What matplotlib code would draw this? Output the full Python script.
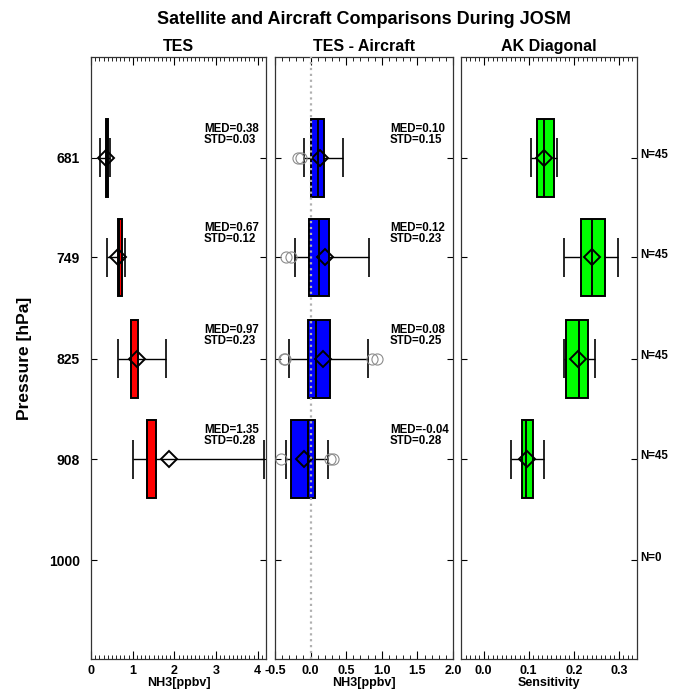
import numpy as np
import matplotlib
matplotlib.use('Agg')
import matplotlib.pyplot as plt
from matplotlib.ticker import MultipleLocator, NullLocator, FixedLocator, FormatStrFormatter

plt.rcParams['font.family'] = ['Liberation Sans', 'DejaVu Sans']
plt.rcParams['font.weight'] = 'bold'

###############
# data

pressure = [681, 749, 825, 908, 1000]
n_obs = [45, 45, 45, 45, 0]

# TES retrieved NH3 [ppbv]
tes_min = [0.22, 0.38, 0.64, 1.00]
tes_q1 = [0.36, 0.64, 0.96, 1.34]
tes_med = [0.38, 0.67, 0.97, 1.35]
tes_q3 = [0.40, 0.74, 1.12, 1.55]
tes_max = [0.46, 0.82, 1.81, 4.16]
tes_mean = [0.36, 0.64, 1.10, 1.87]
tes_std = [0.03, 0.12, 0.23, 0.28]

# TES - Aircraft [ppbv]
dif_min = [-0.095, -0.22, -0.30, -0.35]
dif_q1 = [0.0, -0.024, -0.04, -0.27]
dif_med = [0.10, 0.12, 0.08, -0.04]
dif_q3 = [0.185, 0.263, 0.27, 0.06]
dif_max = [0.46, 0.82, 0.81, 0.24]
dif_mean = [0.13, 0.20, 0.17, -0.09]
dif_std = [0.15, 0.23, 0.25, 0.28]
dif_out = [[-0.175, -0.13], [-0.34, -0.28], [-0.38, -0.36, 0.86, 0.93], [-0.41, 0.27, 0.31]]

# averaging kernel diagonal
ak_min = [0.105, 0.178, 0.178, 0.061]
ak_q1 = [0.119, 0.216, 0.182, 0.085]
ak_med = [0.133, 0.240, 0.211, 0.095]
ak_q3 = [0.157, 0.270, 0.231, 0.109]
ak_max = [0.163, 0.298, 0.248, 0.133]
ak_mean = [0.135, 0.240, 0.210, 0.096]

################

# step between levels in log pressure, used for box and cap heights
f = (pressure[-1] / pressure[0]) ** (1.0 / (len(pressure) - 1))


def draw_boxes(ax, lo, q1, med, q3, hi, mean, color, outliers=None):
    for i in range(len(q1)):
        p = pressure[i]
        b0, b1 = p / f ** 0.386, p * f ** 0.386
        c0, c1 = p / f ** 0.194, p * f ** 0.194
        # whisker line and caps
        ax.hlines(p, lo[i], hi[i], color='k', lw=1.0, zorder=2)
        ax.vlines([lo[i], hi[i]], c0, c1, color='k', lw=1.2, zorder=2)
        # the box itself
        ax.barh(b0, q3[i] - q1[i], height=b1 - b0, left=q1[i], align='edge',
                color=color, edgecolor='k', linewidth=1.4, zorder=3)
        ax.vlines(med[i], b0, b1, color='k', lw=1.4, zorder=4)
        ax.plot(mean[i], p, marker='D', ms=8, mfc='none', mec='k', mew=1.4, zorder=6)
        if outliers is not None:
            ax.plot(outliers[i], [p] * len(outliers[i]), 'o', ms=8, mfc='none',
                    mec='#8c8c8c', mew=0.8, zorder=5)


def stat_text(ax, med, std):
    for i in range(len(med)):
        ax.annotate('MED=%.2f\nSTD=%.2f' % (med[i], std[i]), xy=(0.645, pressure[i]),
                    xycoords=('axes fraction', 'data'), xytext=(0, 17),
                    textcoords='offset points', ha='left', va='center',
                    fontsize=8.3, fontweight='bold', linespacing=0.9)


fig = plt.figure(figsize=(6.73, 6.89), dpi=100)
bottom = 30 / 689
height = 602 / 689
ax1 = fig.add_axes([91 / 673, bottom, 175 / 673, height])
ax2 = fig.add_axes([275 / 673, bottom, 178 / 673, height])
ax3 = fig.add_axes([461 / 673, bottom, 176 / 673, height])

draw_boxes(ax1, tes_min, tes_q1, tes_med, tes_q3, tes_max, tes_mean, '#ff0000')
stat_text(ax1, tes_med, tes_std)

ax2.axvline(0, color='#b0b0b0', ls=':', lw=1.6, zorder=7)
draw_boxes(ax2, dif_min, dif_q1, dif_med, dif_q3, dif_max, dif_mean, '#0000ff', dif_out)
stat_text(ax2, dif_med, dif_std)

draw_boxes(ax3, ak_min, ak_q1, ak_med, ak_q3, ak_max, ak_mean, '#00ff00')
for i in range(len(pressure)):
    ax3.annotate('N=%d' % n_obs[i], xy=(1.02, pressure[i]), xycoords=('axes fraction', 'data'),
                 xytext=(0, 2), textcoords='offset points', ha='left', va='center',
                 fontsize=8.3, fontweight='bold', annotation_clip=False)

# axes, ticks and labels
for ax in [ax1, ax2, ax3]:
    ax.set_yscale('log')
    ax.set_ylim(pressure[-1] * f ** 0.98, pressure[0] / f ** 1.0)
    ax.yaxis.set_major_locator(FixedLocator(pressure))
    ax.yaxis.set_minor_locator(NullLocator())
    ax.tick_params(axis='both', which='both', direction='in', top=True, right=True)
    ax.tick_params(axis='x', which='major', length=6, width=0.8, labelsize=9, pad=4)
    ax.tick_params(axis='x', which='minor', length=3, width=0.6)
    ax.tick_params(axis='y', which='major', length=4, width=0.8)
    for s in ax.spines.values():
        s.set_linewidth(0.9)
        s.set_color('#333333')
    for lab in ax.get_xticklabels():
        lab.set_fontweight('bold')

ax1.set_yticklabels([str(p) for p in pressure], fontsize=10, fontweight='bold')
ax1.tick_params(axis='y', pad=8)
ax2.set_yticklabels([])
ax3.set_yticklabels([])
ax1.set_ylabel('Pressure [hPa]', fontsize=12.5, fontweight='bold', labelpad=12)

ax1.set_xlim(0, 4.2)
ax1.xaxis.set_major_locator(MultipleLocator(1))
ax1.xaxis.set_minor_locator(MultipleLocator(0.1))
ax1.xaxis.set_major_formatter(FormatStrFormatter('%d'))

ax2.set_xlim(-0.5, 2.0)
ax2.xaxis.set_major_locator(MultipleLocator(0.5))
ax2.xaxis.set_minor_locator(MultipleLocator(0.1))
ax2.xaxis.set_major_formatter(FormatStrFormatter('%.1f'))

ax3.set_xlim(-0.05, 0.34)
ax3.xaxis.set_major_locator(MultipleLocator(0.1))
ax3.xaxis.set_minor_locator(MultipleLocator(0.01))
ax3.xaxis.set_major_formatter(FormatStrFormatter('%.1f'))

for ax, t, xl in [(ax1, 'TES', 'NH3[ppbv]'), (ax2, 'TES - Aircraft', 'NH3[ppbv]'),
                  (ax3, 'AK Diagonal', 'Sensitivity')]:
    ax.set_title(t, fontsize=11.5, fontweight='bold', pad=4)
    ax.set_xlabel(xl, fontsize=9, fontweight='bold', labelpad=0)
    for lab in ax.get_xticklabels():
        lab.set_fontweight('bold')

fig.text(364 / 673, 1 - 20 / 689, 'Satellite and Aircraft Comparisons During JOSM',
         ha='center', va='center', fontsize=13, fontweight='bold')

fig.savefig('out.png', dpi=100)
